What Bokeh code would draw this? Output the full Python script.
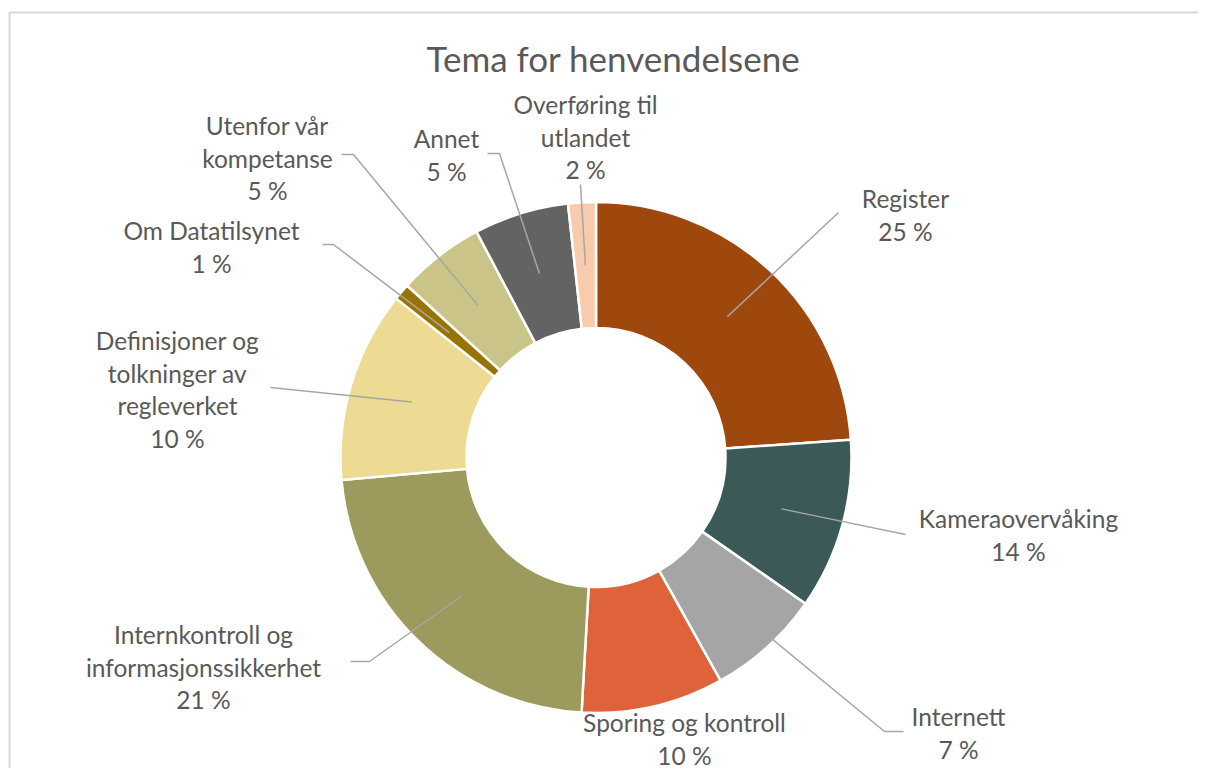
import math
from bokeh.plotting import figure
from bokeh.models import Range1d
from bokeh.core.properties import value
from bokeh.embed import file_html
from bokeh.resources import INLINE

# ---------------- data ----------------
categories = ["Register", "Kameraovervåking", "Internett", "Sporing og kontroll",
              "Internkontroll og\ninformasjonssikkerhet",
              "Definisjoner og\ntolkninger av\nregleverket",
              "Om Datatilsynet", "Utenfor vår\nkompetanse", "Annet",
              "Overføring til\nutlandet"]
# slice sizes as drawn (share of the ring, %)
slice_values = [23.9, 10.8, 7.2, 9.0, 22.7, 12.1, 1.05, 5.5, 6.0, 1.75]
# percentages printed in the labels
pct_labels = ["25 %", "14 %", "7 %", "10 %", "21 %", "10 %", "1 %", "5 %", "5 %", "2 %"]
colors = ["#9E480E", "#3B5A57", "#A5A5A5", "#DE633B", "#9C9A5C",
          "#EDDB93", "#997300", "#CBC488", "#636363", "#F8CBAD"]
title_text = "Tema for henvendelsene"

# ---------------- layout (screen pixels) ----------------
W, H = 1198, 768
def P(X, Y):
    return (X, H - Y)

CX, CY = P(595.5, 457)
R_OUT, R_IN = 255.5, 129.5
R_MID = (R_OUT + R_IN) / 2
LINE_SP = 32.5
FONT = "Lato"
TXT = "#595959"

label_pos = [(905, 198), (1018, 518), (958, 716), (684, 722), (203, 634),
             (177, 340), (211, 230), (267, 125), (446, 138), (585, 104)]
leader_pts = [[(838, 212)], [(905, 534)], [(884, 731), (903, 731)], [],
              [(369, 661), (350, 661)], [(270, 387)], [(333, 244), (322, 244)],
              [(353, 154), (341, 154)], [(499, 153), (487, 153)], [(580, 184)]]

p = figure(width=W, height=H, output_backend="svg", toolbar_location=None,
           x_range=Range1d(0, W), y_range=Range1d(0, H), min_border=0,
           x_axis_type=None, y_axis_type=None)
p.grid.visible = False
p.outline_line_color = None
p.background_fill_color = "white"
p.border_fill_color = "white"

# chart-area frame (left and top edges visible)
fx = [P(9, 900)[0], P(9, 12)[0], P(1400, 12)[0]]
fy = [P(9, 900)[1], P(9, 12)[1], P(1400, 12)[1]]
p.line(fx, fy, line_color="#D9D9D9", line_width=2)

# wedges
total = sum(slice_values)
starts, ends, mids = [], [], []
acc = 0.0
for v in slice_values:
    a0 = acc / total * 2 * math.pi
    acc += v
    a1 = acc / total * 2 * math.pi
    starts.append(math.pi / 2 - a0)
    ends.append(math.pi / 2 - a1)
    mids.append((a0 + a1) / 2)

p.annular_wedge(x=CX, y=CY, inner_radius=R_IN, outer_radius=R_OUT,
                start_angle=starts, end_angle=ends, direction="clock",
                fill_color=colors, line_color="white", line_width=2.5)

# leader lines
for m, pts in zip(mids, leader_pts):
    if not pts:
        continue
    sx = CX + R_MID * math.sin(m)
    sy = CY + R_MID * math.cos(m)
    xs = [sx] + [P(*q)[0] for q in pts]
    ys = [sy] + [P(*q)[1] for q in pts]
    p.line(xs, ys, line_color="#A6A6A6", line_width=1.5)

# labels
lx, ly, lt = [], [], []
for cat, pct, (X, Y) in zip(categories, pct_labels, label_pos):
    lines = cat.split("\n") + [pct]
    for i, t in enumerate(lines):
        x, y = P(X, Y + i * LINE_SP)
        lx.append(x); ly.append(y); lt.append(t)
p.text(x=lx, y=ly, text=lt, text_align="center", text_baseline="middle",
       text_font=value(FONT), text_font_size="24.5px", text_color=TXT)

# title
tx, ty = P(613, 57)
p.text(x=[tx], y=[ty], text=[title_text], text_align="center",
       text_baseline="middle", text_font=value(FONT), text_font_size="35px",
       text_color=TXT)

open("out.html", "w").write(file_html(p, INLINE))
